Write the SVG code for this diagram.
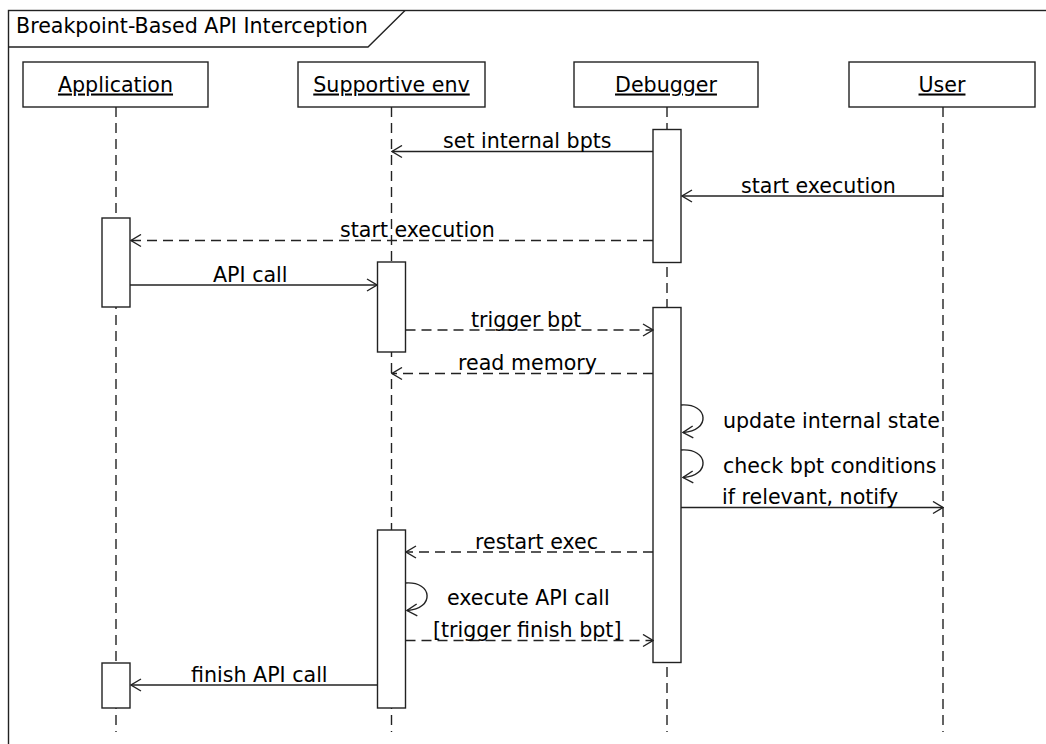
<svg xmlns="http://www.w3.org/2000/svg" width="1046" height="744" viewBox="0 0 1046 744">
<defs>
<style>
text{font-family:"DejaVu Sans","Liberation Sans",sans-serif;font-size:20.6px;fill:#000}
.actor rect{fill:#fff;stroke:#222;stroke-width:1.4}
.actor text{text-anchor:middle;text-decoration:underline}
.life{stroke:#222;stroke-width:1.4;stroke-dasharray:10 6;fill:none}
.act{fill:#fff;stroke:#222;stroke-width:1.4}
.msg{stroke:#222;stroke-width:1.4;fill:none;marker-end:url(#open)}
.dash{stroke-dasharray:10 6}
</style>
<marker id="open" viewBox="0 0 12 14" refX="11" refY="7" markerWidth="12" markerHeight="14" markerUnits="userSpaceOnUse" orient="auto">
<path d="M1,1 L11,7 L1,13" fill="none" stroke="#222" stroke-width="1.4"/>
</marker>
</defs>
<rect width="1046" height="744" fill="#fff"/>
<g id="frame">
<rect x="8.5" y="10.5" width="1100" height="800" fill="none" stroke="#222" stroke-width="1.4"/>
<path d="M8.5,47 L368,47 L405,10.5" fill="none" stroke="#222" stroke-width="1.4"/>
<text x="16" y="33">Breakpoint-Based API Interception</text>
</g>
<g id="lifelines">
<line class="life" x1="116" y1="107" x2="116" y2="732"/>
<line class="life" x1="391.5" y1="107" x2="391.5" y2="732"/>
<line class="life" x1="667" y1="107" x2="667" y2="732"/>
<line class="life" x1="943" y1="107" x2="943" y2="732"/>
</g>
<g id="Application" class="actor"><rect x="23" y="62" width="185" height="45"/><text x="115.5" y="91.5">Application</text></g>
<g id="SupportiveEnv" class="actor"><rect x="298" y="62" width="187" height="45"/><text x="391.5" y="91.5">Supportive env</text></g>
<g id="Debugger" class="actor"><rect x="574" y="62" width="184" height="45"/><text x="666" y="91.5">Debugger</text></g>
<g id="User" class="actor"><rect x="849" y="62" width="186" height="45"/><text x="942" y="91.5">User</text></g>
<g id="activations">
<rect class="act" x="102" y="218" width="28" height="89"/>
<rect class="act" x="102" y="663" width="28" height="45"/>
<rect class="act" x="377.5" y="262" width="28" height="90"/>
<rect class="act" x="377.5" y="530" width="28" height="178"/>
<rect class="act" x="653" y="129.5" width="28" height="133"/>
<rect class="act" x="653" y="307.5" width="28" height="355"/>
</g>
<g id="connectors">
<line class="msg" x1="653" y1="151.5" x2="392" y2="151.5"/>
<text x="443" y="148">set internal bpts</text>
<line class="msg" x1="943" y1="196" x2="682" y2="196"/>
<text x="741" y="192.5">start execution</text>
<line class="msg dash" x1="653" y1="240.5" x2="131" y2="240.5"/>
<text x="340" y="237">start execution</text>
<line class="msg" x1="130" y1="285" x2="377" y2="285"/>
<text x="213" y="281.5">API call</text>
<line class="msg dash" x1="405.5" y1="330" x2="653" y2="330"/>
<text x="471" y="326.5">trigger bpt</text>
<line class="msg dash" x1="653" y1="373.5" x2="392" y2="373.5"/>
<text x="458" y="370">read memory</text>
<path class="msg" d="M681,405 C709,403 711,431 683,432.5"/>
<text x="723" y="428">update internal state</text>
<path class="msg" d="M681,450 C709,448 711,476 683,477.5"/>
<text x="723" y="472.5">check bpt conditions</text>
<line class="msg" x1="681" y1="507.5" x2="943" y2="507.5"/>
<text x="722" y="504">if relevant, notify</text>
<line class="msg dash" x1="653" y1="552" x2="406" y2="552"/>
<text x="475" y="548.5">restart exec</text>
<path class="msg" d="M405.5,583 C433,581 435,609 407,610.5"/>
<text x="447" y="605">execute API call</text>
<line class="msg dash" x1="405.5" y1="640.5" x2="653" y2="640.5"/>
<text x="433" y="637">[trigger finish bpt]</text>
<line class="msg" x1="377.5" y1="685" x2="131" y2="685"/>
<text x="191" y="681.5">finish API call</text>
</g>
</svg>
